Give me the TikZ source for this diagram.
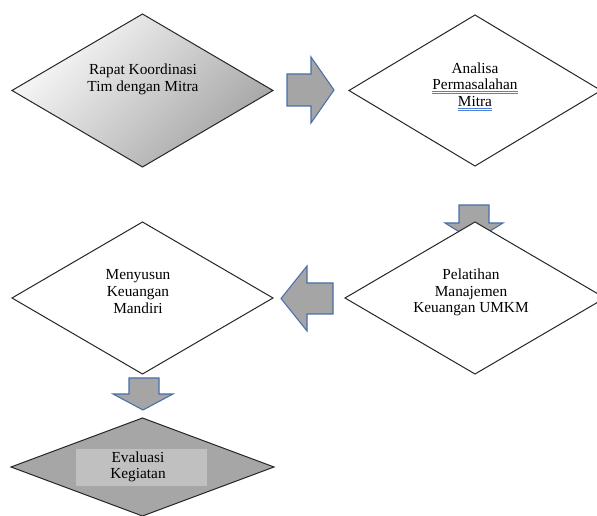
\documentclass[tikz,border=0pt]{standalone}
\usepackage{fontspec}
\setmainfont{Liberation Serif}
\usetikzlibrary{shapes.geometric}
\definecolor{arrowfill}{HTML}{A5A5A5}
\definecolor{arrowline}{HTML}{4A6FA8}
\definecolor{evalfill}{HTML}{A6A6A6}
\definecolor{evalinner}{HTML}{C0C0C0}
\definecolor{spellblue}{HTML}{5083D8}
\newcommand\spellword[1]{\setbox0\hbox{#1}%
  \rlap{\textcolor{spellblue}{\rule[-1.4pt]{\wd0}{0.5pt}}}%
  \rlap{\textcolor{spellblue}{\rule[-2.9pt]{\wd0}{0.5pt}}}%
  \box0}
\begin{document}
\begin{tikzpicture}[x=0.75pt,y=-0.75pt,
  dia/.style={diamond, draw=black!85, line width=0.75pt, inner sep=0pt, outer sep=0pt},
  txt/.style={font=\fontsize{11.5}{12.5}\selectfont, align=center, inner sep=0pt, text=black},
  blockarrow/.style={fill=arrowfill, draw=arrowline, line width=0.8pt, line join=miter}]
\useasboundingbox[fill=white] (0,0) rectangle (597,516);

% diamond 1 (gradient)
\node[dia, minimum width=195.75pt, minimum height=114.75pt,
      top color=gray!3, bottom color=gray!72, shading angle=45] (d1) at (142.5,90.5) {};
\node[txt] (t1) at (143,79.5) {Rapat Koordinasi\\Tim dengan Mitra};

% right arrow
\draw[blockarrow] (287,74) -- (311,74) -- (311,57) -- (334,90) -- (311,123) -- (311,106) -- (287,106) -- cycle;

% diamond 2
\node[dia, fill=white, minimum width=189pt, minimum height=113.25pt] (d2) at (475,90.5) {};
\node[txt] (t2) at (475,86.5) {Analisa\\\spellword{Permasalahan}\\\spellword{Mitra}};

% down arrow 1 (behind diamond 4)
\draw[blockarrow] (459,205) -- (489,205) -- (489,223) -- (503,223) -- (474,241) -- (445,223) -- (459,223) -- cycle;

% diamond 4
\node[dia, fill=white, minimum width=195pt, minimum height=114pt] (d4) at (475,298) {};
\node[txt] (t4) at (471,292.5) {Pelatihan\\Manajemen\\Keuangan UMKM};

% left arrow
\draw[blockarrow] (333,283) -- (307,283) -- (307,266) -- (281,298.5) -- (307,331) -- (307,314) -- (333,314) -- cycle;

% diamond 3
\node[dia, fill=white, minimum width=195.75pt, minimum height=114pt] (d3) at (142.5,298) {};
\node[txt] (t3) at (138,291.5) {Menyusun\\Keuangan\\Mandiri};

% down arrow 2
\draw[blockarrow] (129,378) -- (159,378) -- (159,394) -- (173,394) -- (143,410) -- (113,394) -- (129,394) -- cycle;

% diamond 5
\node[dia, fill=evalfill, minimum width=197.25pt, minimum height=73.5pt] (d5) at (142.5,467) {};
\fill[evalinner] (76,449) rectangle (207,486);
\node[txt] (t5) at (138,467) {Evaluasi\\Kegiatan};
\end{tikzpicture}
\end{document}
